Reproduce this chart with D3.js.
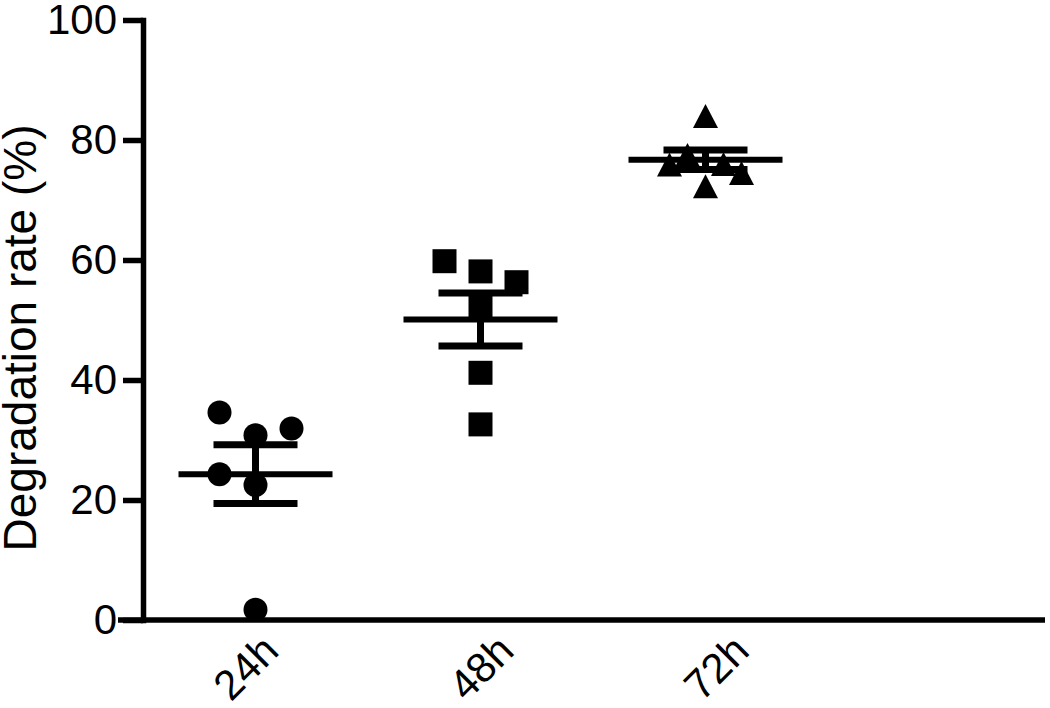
<!DOCTYPE html>
<html>
<head>
<meta charset="utf-8">
<script src="https://cdn.jsdelivr.net/npm/d3@7"></script>
<style>
  html, body { margin: 0; padding: 0; background: #fff; }
  svg { display: block; font-family: "Liberation Sans", Arial, Helvetica, sans-serif; }
</style>
</head>
<body>
<svg id="chart" width="1050" height="708"></svg>
<script>
// ---- data ----
const categories = ["24h", "48h", "72h"];
const values24 = [34.6, 31.9, 30.8, 24.3, 22.5, 1.7];
const values48 = [59.8, 58.1, 56.3, 52.5, 41.2, 32.6];
const values72 = [84.0, 77.5, 76.0, 75.9, 74.5, 72.3];
// column slot of each point inside its group (GraphPad-style scatter arrangement)
const slots24 = [-2, 2, 0, -2, 0, 0];
const slots48 = [-2, 0, 2, 0, 0, 0];
const slots72 = [0, -1, 1, -2, 2, 0];
const markerShapes = ["circle", "square", "triangle"];
const yTicks = [0, 20, 40, 60, 80, 100];
const yLabel = "Degradation rate (%)";

// ---- layout ----
const W = 1050, H = 708;
const plot = { left: 143, top: 20, bottom: 620, bandRight: 818, axisRight: 1045 };
const slotStep = 18;
const markerSize = 24;
const meanHalf = 77, capHalf = 42;
const axisW = 5.5;

const svg = d3.select("#chart");

const groups = categories.map((c, i) => ({
  cat: c,
  values: [values24, values48, values72][i],
  slots: [slots24, slots48, slots72][i],
  shape: markerShapes[i]
}));

const x = d3.scaleBand().domain(categories).range([plot.left, plot.bandRight]).padding(0);
// tick labels in the reference are spread slightly wider than the data columns
const xLabel = d3.scaleBand().domain(categories).range([135, 841]).padding(0);
const y = d3.scaleLinear().domain([0, 100]).range([plot.bottom, plot.top]);
const cx = c => x(c) + x.bandwidth() / 2;

// ---- y axis ----
const yAxis = svg.append("g")
  .attr("transform", `translate(${plot.left},0)`)
  .call(d3.axisLeft(y).tickValues(yTicks).tickSize(20).tickSizeOuter(0).tickPadding(6));
yAxis.select(".domain").attr("stroke", "#000").attr("stroke-width", axisW).attr("stroke-linecap", "square");
yAxis.selectAll(".tick line").attr("stroke", "#000").attr("stroke-width", axisW);
yAxis.selectAll(".tick text").attr("font-size", 42).attr("fill", "#000")
  .attr("font-family", "'Liberation Sans', Arial, sans-serif");

// ---- x axis ----
const xAxis = svg.append("g")
  .attr("transform", `translate(0,${plot.bottom})`)
  .call(d3.axisBottom(xLabel).tickSize(0).tickSizeOuter(0));
xAxis.select(".domain").remove();
xAxis.selectAll(".tick text")
  .attr("font-size", 42).attr("fill", "#000")
  .attr("font-family", "'Liberation Sans', Arial, sans-serif")
  .attr("text-anchor", "end")
  .attr("dy", null)
  .attr("y", 0)
  .attr("transform", "translate(28,33) rotate(-45)");
svg.append("line")
  .attr("x1", plot.left - 25).attr("x2", plot.axisRight)
  .attr("y1", y(0)).attr("y2", y(0))
  .attr("stroke", "#000").attr("stroke-width", axisW);

// ---- y label ----
svg.append("text")
  .attr("transform", `translate(36,338) rotate(-90)`)
  .attr("text-anchor", "middle")
  .attr("font-size", 46)
  .attr("fill", "#000")
  .text(yLabel);

// ---- mean ± SEM ----
const stats = svg.append("g");
groups.forEach(g => {
  const m = d3.mean(g.values);
  const sem = d3.deviation(g.values) / Math.sqrt(g.values.length);
  const c = cx(g.cat);
  stats.append("line").attr("x1", c - meanHalf).attr("x2", c + meanHalf)
    .attr("y1", y(m)).attr("y2", y(m)).attr("stroke", "#000").attr("stroke-width", 6);
  stats.append("line").attr("x1", c).attr("x2", c)
    .attr("y1", y(m + sem)).attr("y2", y(m - sem)).attr("stroke", "#000").attr("stroke-width", 7);
  [m + sem, m - sem].forEach(v => {
    stats.append("line").attr("x1", c - capHalf).attr("x2", c + capHalf)
      .attr("y1", y(v)).attr("y2", y(v)).attr("stroke", "#000").attr("stroke-width", 7);
  });
});

// ---- points ----
const s = markerSize;
const shapePath = {
  circle: `M${s/2},0A${s/2},${s/2} 0 1,1 ${-s/2},0A${s/2},${s/2} 0 1,1 ${s/2},0Z`,
  square: `M${-s/2},${-s/2}H${s/2}V${s/2}H${-s/2}Z`,
  triangle: `M0,${-s/2}L${s/2 + 0.5},${s/2}L${-s/2 - 0.5},${s/2}Z`
};
const pts = svg.append("g");
groups.forEach(g => {
  pts.selectAll(null)
    .data(g.values.map((v, i) => ({ v, slot: g.slots[i] })))
    .enter().append("path")
    .attr("d", shapePath[g.shape])
    .attr("transform", d => `translate(${cx(g.cat) + d.slot * slotStep},${y(d.v)})`)
    .attr("fill", "#000");
});
</script>
</body>
</html>
